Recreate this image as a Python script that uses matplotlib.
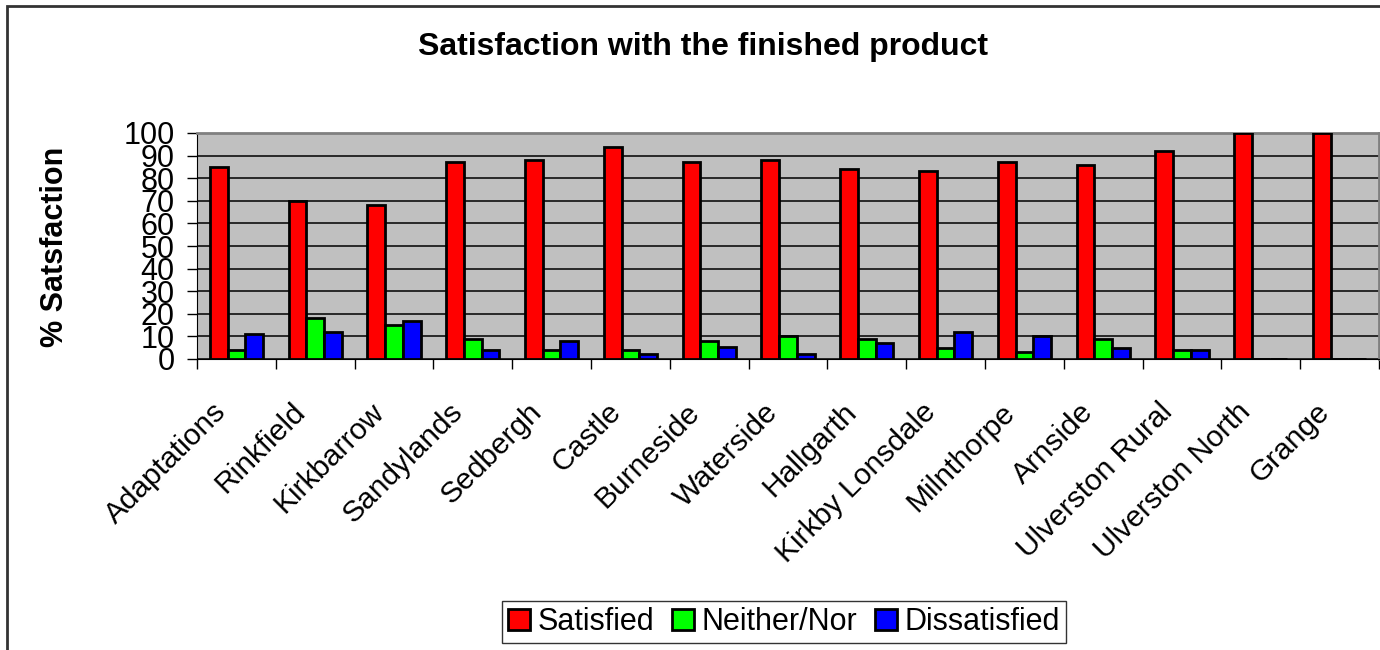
import matplotlib
matplotlib.use("Agg")
import matplotlib.pyplot as plt
import numpy as np
from matplotlib.patches import Rectangle
import matplotlib.transforms as mtransforms

categories = ["Adaptations", "Rinkfield", "Kirkbarrow", "Sandylands", "Sedbergh",
              "Castle", "Burneside", "Waterside", "Hallgarth", "Kirkby Lonsdale",
              "Milnthorpe", "Arnside", "Ulverston Rural", "Ulverston North", "Grange"]
satisfied = [85, 70, 68, 87, 88, 94, 87, 88, 84, 83, 87, 86, 92, 100, 100]
neither = [4, 18, 15, 9, 4, 4, 8, 10, 9, 5, 3, 9, 4, 0, 0]
dissatisfied = [11, 12, 17, 4, 8, 2, 5.5, 2, 7, 12, 10, 5, 4, 0, 0]
series_names = ["Satisfied", "Neither/Nor", "Dissatisfied"]
series_colors = ["#FF0000", "#00FF00", "#0000FF"]
yticks = list(range(0, 101, 10))

plt.rcParams['font.family'] = ['Liberation Sans', 'DejaVu Sans']

W, H = 1380, 650
fig = plt.figure(figsize=(W / 100, H / 100), dpi=100)
ax = fig.add_axes([197 / W, 1 - 359 / H, (1379 - 197) / W, (359 - 133) / H])
ax.set_facecolor("#C0C0C0")

n = len(categories)
x = np.arange(n)
bw = 0.225
series = [satisfied, neither, dissatisfied]
handles = []
for i, (vals, col, name) in enumerate(zip(series, series_colors, series_names)):
    b = ax.bar(x - 0.5 + 0.1625 + bw * i, vals, width=bw, align='edge', color=col,
               edgecolor='black', linewidth=2, label=name, zorder=3)
    handles.append(b)

ax.set_xlim(-0.5, n - 0.5)
ax.set_ylim(0, 100)
ax.set_yticks(yticks)
ax.set_yticklabels([str(v) for v in yticks], fontsize=22)
ax.yaxis.grid(True, color='black', linewidth=1.1, zorder=1)
ax.set_axisbelow(True)

ax.set_xticks(np.arange(-0.5, n, 1.0))
ax.set_xticklabels([])
ax.set_xticks(x, minor=True)
ax.set_xticklabels(categories, minor=True, rotation=45, ha='right',
                   rotation_mode='anchor', fontsize=21.5)
ax.tick_params(axis='x', which='minor', length=0, pad=28)
ax.tick_params(axis='x', which='major', length=7, width=1, color='black')
ax.tick_params(axis='y', length=7, width=1, pad=9)

ax.spines['top'].set_color('#808080')
ax.spines['right'].set_color('#808080')
ax.spines['top'].set_linewidth(2)
ax.spines['right'].set_linewidth(2)
ax.spines['left'].set_color('black')
ax.spines['bottom'].set_color('black')

offset = mtransforms.ScaledTranslation(-24 / 100, 0, fig.dpi_scale_trans)
for lab in ax.get_xticklabels(minor=True):
    lab.set_transform(lab.get_transform() + offset)

fig.text(703 / W, 1 - 47 / H, "Satisfaction with the finished product",
         ha='center', va='center', fontsize=23, fontweight='bold')
fig.text(55 / W, 1 - 247 / H, "% Satsfaction", ha='center', va='center',
         rotation=90, fontsize=22, fontweight='bold')

leg = fig.legend(handles=handles, labels=series_names, loc='center',
                 bbox_to_anchor=(784 / W, 1 - 622 / H), ncol=3, fontsize=22,
                 frameon=True, fancybox=False, edgecolor='black',
                 handlelength=0.7, handleheight=0.7, handletextpad=0.25,
                 columnspacing=0.6, borderpad=0.2, borderaxespad=0)
leg.get_frame().set_linewidth(1)

fig.patches.append(Rectangle((7 / W, -0.1), 1.2, 1 - 6 / H + 0.1, transform=fig.transFigure,
                             fill=False, edgecolor='#333333', linewidth=2))

fig.savefig("out.png", dpi=100)
